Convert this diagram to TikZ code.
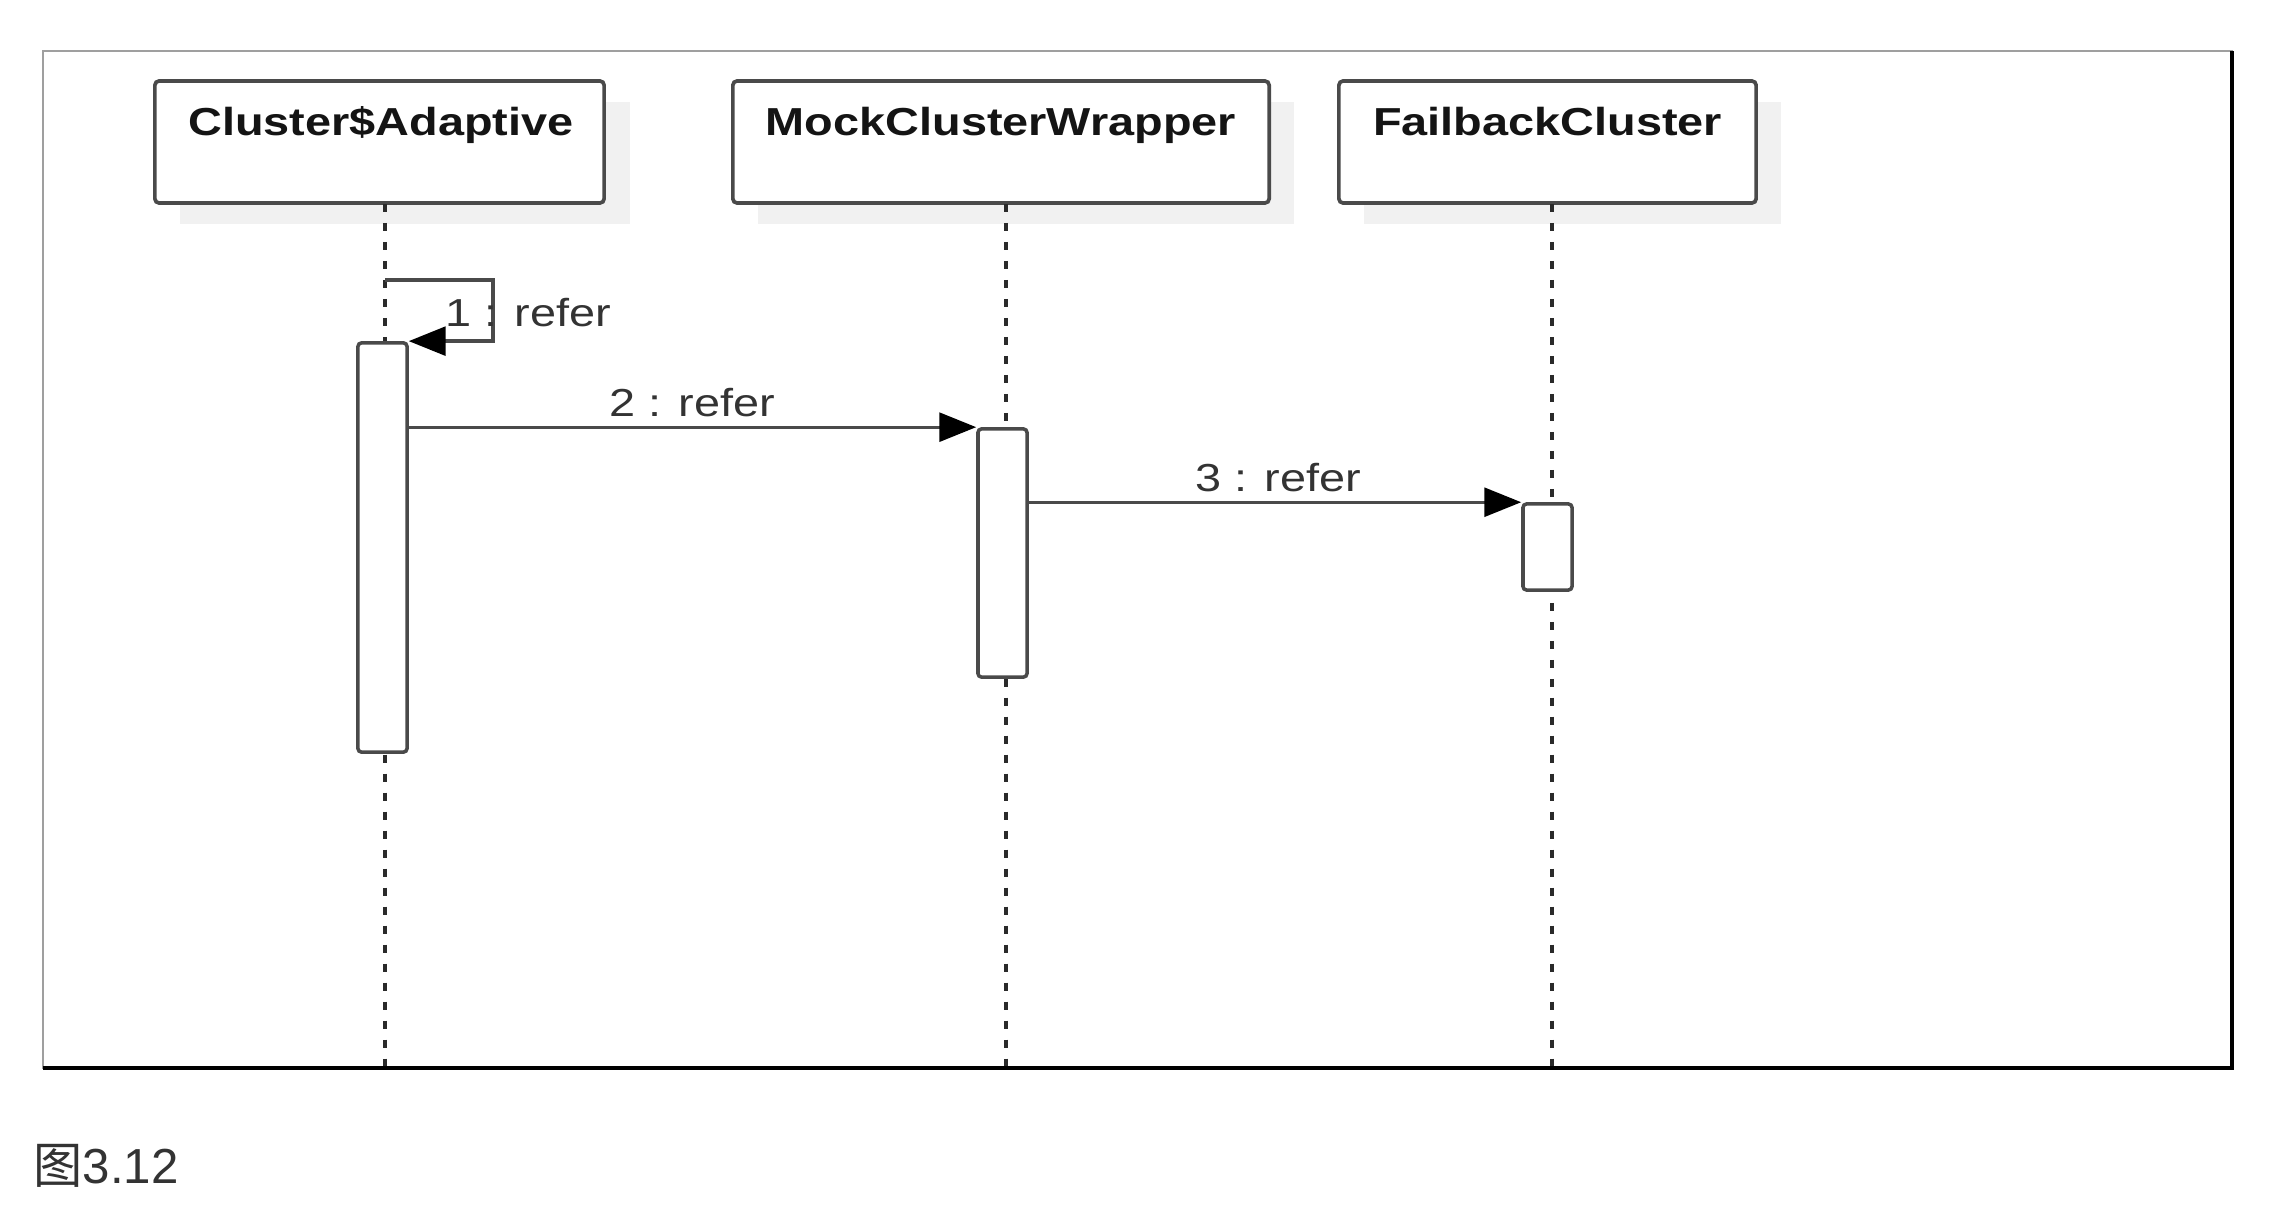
\documentclass[tikz,border=0pt]{standalone}
\usepackage{fontspec}
\setmainfont{Liberation Sans}
\newfontfamily\stretchfont[FakeStretch=1.2]{Liberation Sans}
\newfontfamily\cjkfont{Noto Sans CJK SC}
\usetikzlibrary{arrows.meta,calc}
\definecolor{bordc}{HTML}{4A4A4A}
\definecolor{lifec}{HTML}{2A2A2A}
\definecolor{shadc}{HTML}{F1F1F1}
\definecolor{textc}{HTML}{333333}
\tikzset{
  objbox/.style={draw=bordc, line width=1.05pt, fill=white, rounded corners=1.2pt, minimum width=#1, minimum height=1.22cm, inner sep=0pt},
  objtitle/.style={font=\stretchfont\bfseries\fontsize{11.1}{13}\selectfont, text=black!92, anchor=base, inner sep=0pt},
  lifeline/.style={draw=lifec, line width=1.0pt, dash pattern=on 2.3pt off 3.1pt},
  actbox/.style={draw=bordc, line width=1.0pt, fill=white, rounded corners=1pt, minimum width=0.49cm, minimum height=#1, inner sep=0pt},
  msg/.style={draw=bordc, line width=0.95pt, -{Triangle[length=10.5pt,width=8.2pt,fill=black,color=black]}},
  msglabel/.style={font=\stretchfont\fontsize{11.1}{13}\selectfont, text=textc, inner sep=0pt},
}
\begin{document}
\begin{tikzpicture}[x=0.01cm,y=-0.01cm]
\useasboundingbox (0,0) rectangle (2272,1212);
% frame
\draw[gray!75, line width=0.5pt] (43,51) rectangle (2232,1068);
\draw[black, line width=1.4pt] (43,1068) -- (2232,1068) -- (2232,51);
% shadows
\fill[shadc] (180,102) rectangle (630,224);
\fill[shadc] (758,102) rectangle (1294,224);
\fill[shadc] (1364,102) rectangle (1781,224);
% object boxes
\node[objbox=4.49cm] (b1) at (379.5,142) {};
\node[objbox=5.36cm] (b2) at (1001,142) {};
\node[objbox=4.17cm] (b3) at (1547.5,142) {};
\node[objtitle] (t1) at (381,135) {Cluster\$Adaptive};
\node[objtitle] (t2) at (1001,135) {MockClusterWrapper};
\node[objtitle] (t3) at (1547.5,135) {FailbackCluster};
% lifelines
\coordinate (l1a) at (385,204);
\coordinate (l1b) at (385,1066);
\coordinate (l2a) at (1006,204);
\coordinate (l2b) at (1006,1066);
\coordinate (l3a) at (1552,204);
\coordinate (l3b) at (1552,1066);
\draw[lifeline] (l1a) -- (l1b);
\draw[lifeline] (l2a) -- (l2b);
\draw[lifeline] (l3a) -- (l3b);
% activations
\node[actbox=4.09cm] (a1) at (382.5,547.5) {};
\node[actbox=2.48cm] (a2) at (1002.5,553) {};
\node[actbox=0.86cm] (a3) at (1547.5,547) {};
% messages
\coordinate (s1) at (385,280);
\coordinate (s1r) at (493,280);
\draw[msg] (s1) -- (s1r) |- (a1.north east);
\node[msglabel] (m1) at (528,313) {1 : refer};
\draw[msg] (a1.east |- a2.north west) -- (a2.north west);
\node[msglabel] (m2) at (692,403) {2 : refer};
\draw[msg] (a2.east |- a3.north west) -- (a3.north west);
\node[msglabel] (m3) at (1278,478) {3 : refer};
% caption
\node[anchor=base west, inner sep=0pt, text=textc, font=\fontsize{14}{16}\selectfont] (cap) at (33,1183) {{\cjkfont 图}3.12};
\end{tikzpicture}
\end{document}
